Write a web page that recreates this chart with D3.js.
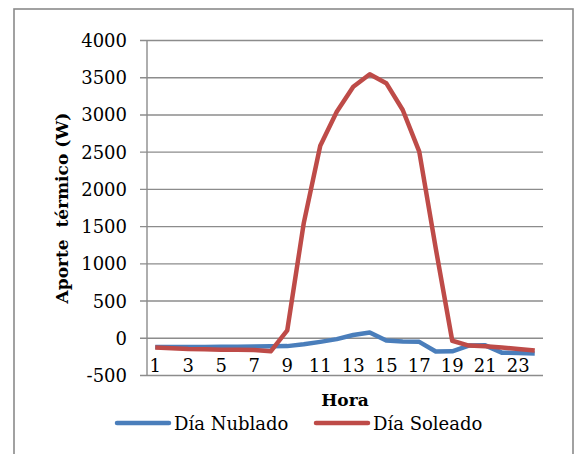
<!DOCTYPE html>
<html>
<head>
<meta charset="utf-8">
<script src="https://cdn.jsdelivr.net/npm/d3@7"></script>
<style>
  html, body { margin: 0; padding: 0; background: #fff; }
  svg { display: block; }
  text { font-family: "DejaVu Serif", serif; fill: #000; }
</style>
</head>
<body>
<svg id="chart" width="579" height="454"></svg>
<script>
// Hourly thermal contribution (W) for a cloudy and a sunny day
const hours = d3.range(1, 25);
const nublado = [-125, -125, -125, -125, -122, -120, -118, -115, -112, -88, -55, -18,
                 38, 72, -38, -50, -55, -185, -182, -105, -102, -200, -205, -210];
const soleado = [-132, -140, -150, -155, -160, -160, -165, -182, 100, 1540, 2580, 3035,
                 3372, 3540, 3420, 3060, 2500, 1200, -40, -105, -115, -130, -150, -170];
const yTicks = [-500, 0, 500, 1000, 1500, 2000, 2500, 3000, 3500, 4000];
const xTicks = [1, 3, 5, 7, 9, 11, 13, 15, 17, 19, 21, 23];
const seriesNames = ["Día Nublado", "Día Soleado"];
const seriesColors = ["#4A7EBB", "#BE4B48"];
const yTitle = "Aporte  térmico (W)";
const xTitle = "Hora";

const svg = d3.select("#chart");
const plot = { left: 147, right: 543, top: 40, bottom: 375 };

const x = d3.scaleBand().domain(hours).range([plot.left, plot.right]);
const y = d3.scaleLinear().domain([-500, 4000]).range([plot.bottom, plot.top]);
const cx = h => x(h) + x.bandwidth() / 2;

// Outer chart frame
svg.append("rect")
  .attr("x", 14).attr("y", 9).attr("width", 559).attr("height", 470)
  .attr("fill", "#fff").attr("stroke", "#8a8a8a").attr("stroke-width", 1.6);

// Value axis with gridlines (plain hyphen for negatives)
const yAxis = svg.append("g")
  .attr("transform", `translate(${plot.left},0)`)
  .call(d3.axisLeft(y).tickValues(yTicks).tickSize(-(plot.right - plot.left)).tickPadding(0)
        .tickFormat(d => String(d)));
yAxis.select(".domain").remove();
yAxis.selectAll(".tick line")
  .attr("x1", -7)
  .attr("stroke", "#8c8c8c").attr("stroke-width", 1.4);
yAxis.selectAll(".tick text")
  .attr("x", -20).attr("dy", "0.36em")
  .style("font-size", "18px").style("font-family", "DejaVu Serif").attr("fill", "#000");

svg.append("line")
  .attr("x1", plot.left).attr("x2", plot.left)
  .attr("y1", plot.top).attr("y2", plot.bottom)
  .attr("stroke", "#8c8c8c").attr("stroke-width", 1.4);

// Category axis labels sit just under the zero line
const xAxis = svg.append("g")
  .attr("transform", `translate(0,${y(0)})`)
  .call(d3.axisBottom(x).tickValues(xTicks).tickSize(0));
xAxis.select(".domain").remove();
xAxis.selectAll(".tick text")
  .attr("y", 34).attr("dy", 0)
  .style("font-size", "18px").style("font-family", "DejaVu Serif").attr("fill", "#000");

// Series lines
const line = d3.line().x((d, i) => cx(hours[i])).y(d => y(d));
[nublado, soleado].forEach((vals, k) => {
  svg.append("path")
    .datum(vals)
    .attr("d", line)
    .attr("fill", "none")
    .attr("stroke", seriesColors[k])
    .attr("stroke-width", 4.5)
    .attr("stroke-linejoin", "round");
});

// Axis titles
svg.append("text")
  .attr("transform", `translate(68,208) rotate(-90)`)
  .attr("text-anchor", "middle")
  .style("font-size", "17px").style("font-weight", "bold")
  .style("white-space", "pre")
  .text(yTitle);

svg.append("text")
  .attr("x", 345).attr("y", 406)
  .attr("text-anchor", "middle")
  .style("font-size", "17px").style("font-weight", "bold")
  .text(xTitle);

// Legend
const legendX = [117, 316];
seriesNames.forEach((name, k) => {
  const g = svg.append("g").attr("transform", `translate(${legendX[k]},423)`);
  g.append("line")
    .attr("x1", 0).attr("x2", 52).attr("y1", 0).attr("y2", 0)
    .attr("stroke", seriesColors[k]).attr("stroke-width", 4.5)
    .attr("stroke-linecap", "round");
  g.append("text")
    .attr("x", 57).attr("y", 7)
    .style("font-size", "18px")
    .text(name);
});
</script>
</body>
</html>
